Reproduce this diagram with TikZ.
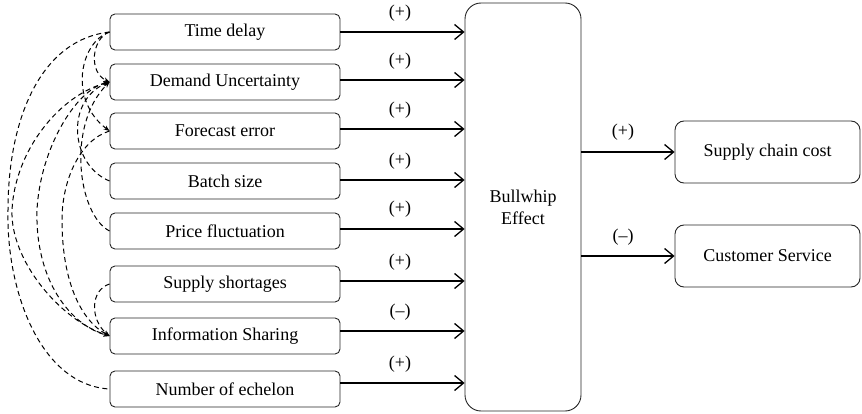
\documentclass[tikz,border=0pt]{standalone}
\usepackage{fontspec}
\setmainfont{Liberation Serif}
\usetikzlibrary{arrows.meta}
\begin{document}
\begin{tikzpicture}[x=1pt,y=-1pt,
  txt/.style={font=\fontsize{18}{22}\selectfont},
  factor/.style={txt, draw=black!85, rounded corners=5pt, minimum width=230pt, minimum height=36pt, line width=0.9pt, inner sep=0pt},
  outcome/.style={txt, draw=black!85, rounded corners=9pt, minimum width=185pt, minimum height=62pt, line width=0.9pt, inner sep=0pt},
  hub/.style={txt, draw=black!85, rounded corners=16pt, minimum width=116pt, minimum height=408pt, line width=0.9pt, align=center, inner sep=0pt},
  flow/.style={line width=1.3pt, -{Straight Barb[length=9pt,width=15pt,line width=1.3pt]}},
  sign/.style={txt, inner sep=0pt},
  link/.style={dash pattern=on 5pt off 3.5pt, line width=1pt},
  tip/.style={-{Stealth[length=6pt,width=4.5pt]}},
  tips/.style={{Stealth[length=6pt,width=4.5pt]}-{Stealth[length=6pt,width=4.5pt]}}
]
\useasboundingbox (0,0) rectangle (862,414);

% factor boxes
\node[factor] (td) at (225,32)  {Time delay};
\node[factor] (du) at (225,82)  {Demand Uncertainty};
\node[factor] (fe) at (225,131) {Forecast error};
\node[factor] (bs) at (225,181) {Batch size};
\node[factor] (pf) at (225,231) {Price fluctuation};
\node[factor] (ss) at (225,284) {Supply shortages};
\node[factor] (is) at (225,336) {Information Sharing};
\node[factor] (ne) at (225,389) {Number of echelon};

% hub and outcomes
\node[hub] (bw) at (523,207) {Bullwhip\\Effect};
\node[outcome] (sc) at (767.5,152) {Supply chain cost};
\node[outcome] (cs) at (767.5,256) {Customer Service};

% arrows into hub
\draw[flow] (td.east |- 0,32)  -- (bw.west |- 0,32);
\draw[flow] (du.east |- 0,80)  -- (bw.west |- 0,80);
\draw[flow] (fe.east |- 0,129) -- (bw.west |- 0,129);
\draw[flow] (bs.east |- 0,180) -- (bw.west |- 0,180);
\draw[flow] (pf.east |- 0,229) -- (bw.west |- 0,229);
\draw[flow] (ss.east |- 0,281) -- (bw.west |- 0,281);
\draw[flow] (is.east |- 0,331) -- (bw.west |- 0,331);
\draw[flow] (ne.east |- 0,383) -- (bw.west |- 0,383);

\node[sign] (s1) at (400,13)  {(+)};
\node[sign] (s2) at (400,61)  {(+)};
\node[sign] (s3) at (400,110) {(+)};
\node[sign] (s4) at (400,161) {(+)};
\node[sign] (s5) at (400,209) {(+)};
\node[sign] (s6) at (400,262) {(+)};
\node[sign] (s7) at (400,312) {(–)};
\node[sign] (s8) at (400,364) {(+)};

% arrows out of hub
\draw[flow] (bw.east |- sc.west) -- (sc.west);
\draw[flow] (bw.east |- cs.west) -- (cs.west);
\node[sign] (s9)  at (623,132) {(+)};
\node[sign] (s10) at (623,237) {(–)};

% dashed interrelations
\draw[link,tip] (td.west) .. controls (92,38) and (88,72) .. (du.west);
\draw[link,tip] (td.west) .. controls (80,42) and (68,100) .. (fe.west);
\draw[link] (td.west) .. controls (40,40) and (8,120) .. (8,210)
                      .. controls (6,290) and (40,385) .. (ne.west);
\draw[link,tips] (du.west) .. controls (60,95) and (15,150) .. (12,210)
                           .. controls (10,260) and (60,320) .. (is.west);
\draw[link,tips] (du.west) .. controls (75,90) and (40,150) .. (37,210)
                           .. controls (35,280) and (70,325) .. (is.west);
\draw[link,tip] (fe.west) .. controls (80,140) and (62,180) .. (62,220)
                          .. controls (62,280) and (80,320) .. (is.west);
\draw[link,tip] (bs.west) .. controls (70,165) and (65,100) .. (du.west);
\draw[link,tip] (pf.west) .. controls (78,215) and (66,125) .. (du.west);
\draw[link,tip] (ss.west) .. controls (90,290) and (90,320) .. (is.west);
\end{tikzpicture}
\end{document}
